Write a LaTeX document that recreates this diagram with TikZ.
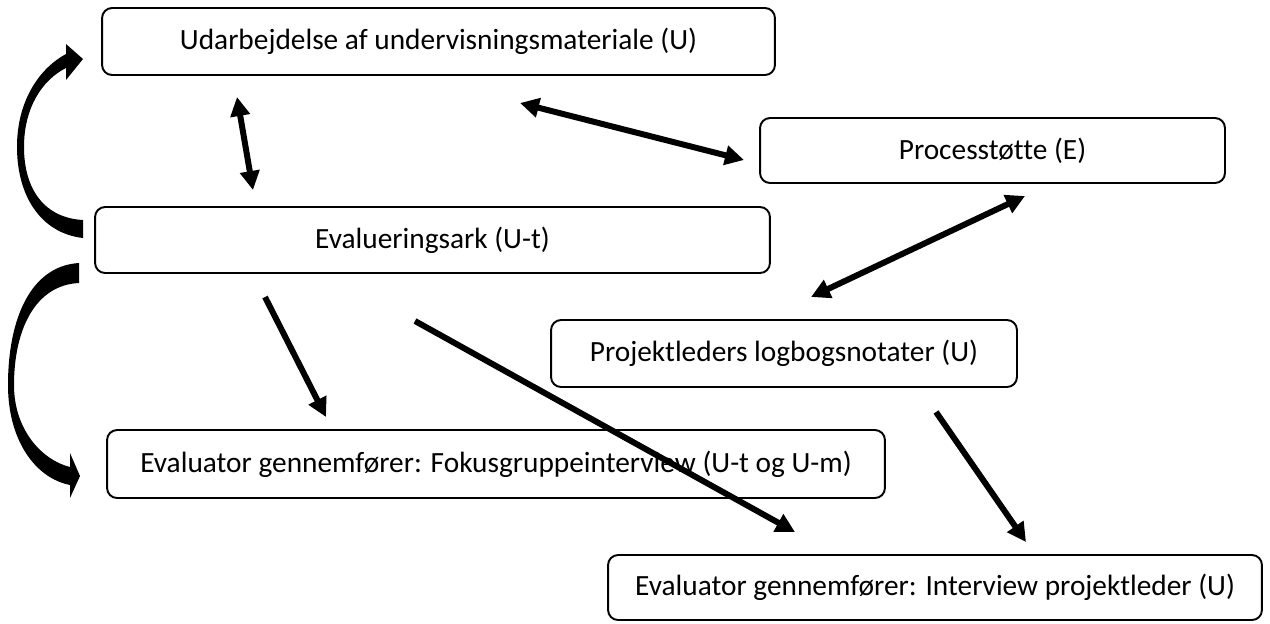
\documentclass[tikz,border=0pt]{standalone}
\usepackage{fontspec}
\setmainfont[Ligatures=NoCommon]{Carlito}
\usepackage{tikz}
\usetikzlibrary{arrows.meta}

\tikzset{
  boks/.style={draw, line width=1.1pt, rounded corners=0.2cm, inner sep=0pt,
    font=\fontsize{16.7}{20}\selectfont},
  pil/.style={line width=3.4pt, -{Triangle[length=0.38cm,width=0.38cm]}},
  dobbeltpil/.style={line width=3.4pt, {Triangle[length=0.38cm,width=0.38cm]}-{Triangle[length=0.38cm,width=0.38cm]}}
}

\begin{document}
\begin{tikzpicture}[x=0.02cm, y=-0.02cm]
  \useasboundingbox (0,0) rectangle (1270,623);

  %% Kasserne
  \node[boks, minimum width=13.46cm, minimum height=1.34cm] (udarb) at (438.5,41.5) {Udarbejdelse af undervisningsmateriale (U)};
  \node[boks, minimum width=9.30cm, minimum height=1.30cm] (proces) at (992.5,150.5) {Processtøtte (E)};
  \node[boks, minimum width=13.50cm, minimum height=1.32cm] (evalark) at (432.5,240) {Evalueringsark (U-t)};
  \node[boks, minimum width=9.32cm, minimum height=1.34cm] (logbog) at (784,353.5) {Projektleders logbogsnotater (U)};
  \node[boks, minimum width=15.56cm, minimum height=1.36cm] (fokus) at (496,464) {Evaluator gennemfører: Fokusgruppeinterview (U-t og U-m)};
  \node[boks, minimum width=13.08cm, minimum height=1.30cm] (interview) at (935,587.5) {Evaluator gennemfører: Interview projektleder (U)};

  %% Endepunkter for pilene
  \coordinate (udarbA) at (237,97);
  \coordinate (evalarkA) at (253,190);
  \coordinate (udarbB) at (520,103);
  \coordinate (procesA) at (744,160);
  \coordinate (procesB) at (1025,196);
  \coordinate (logbogA) at (811,297);
  \coordinate (evalarkB) at (265,297);
  \coordinate (fokusA) at (326,417);
  \coordinate (evalarkC) at (415,321);
  \coordinate (interviewA) at (795,532);
  \coordinate (logbogB) at (936,412);
  \coordinate (interviewB) at (1026,542);

  % lige pile
  \draw[dobbeltpil] (udarbA) -- (evalarkA);
  \draw[dobbeltpil] (udarbB) -- (procesA);
  \draw[dobbeltpil] (procesB) -- (logbogA);
  \draw[pil] (evalarkB) -- (fokusA);
  \draw[pil] (evalarkC) -- (interviewA);
  \draw[pil] (logbogB) -- (interviewB);

  %% Buede pile til venstre
  % op til udarbejdelse
  \fill (83,238) .. controls (40,233) and (17,195) .. (17,147)
    .. controls (17,100) and (40,68) .. (66,54) -- (66,44) -- (83,59) -- (66,80) -- (66,68)
    .. controls (42,80) and (24,108) .. (24,147)
    .. controls (24,190) and (45,218) .. (83,220) -- cycle;
  % ned til fokusgruppeinterview
  \fill (79,263) .. controls (30,266) and (8,320) .. (8,385)
    .. controls (8,440) and (35,478) .. (70,485) -- (70,498) -- (80,476) -- (70,453) -- (70,467)
    .. controls (42,460) and (14,430) .. (14,385)
    .. controls (14,330) and (35,285) .. (79,283) -- cycle;
\end{tikzpicture}
\end{document}
